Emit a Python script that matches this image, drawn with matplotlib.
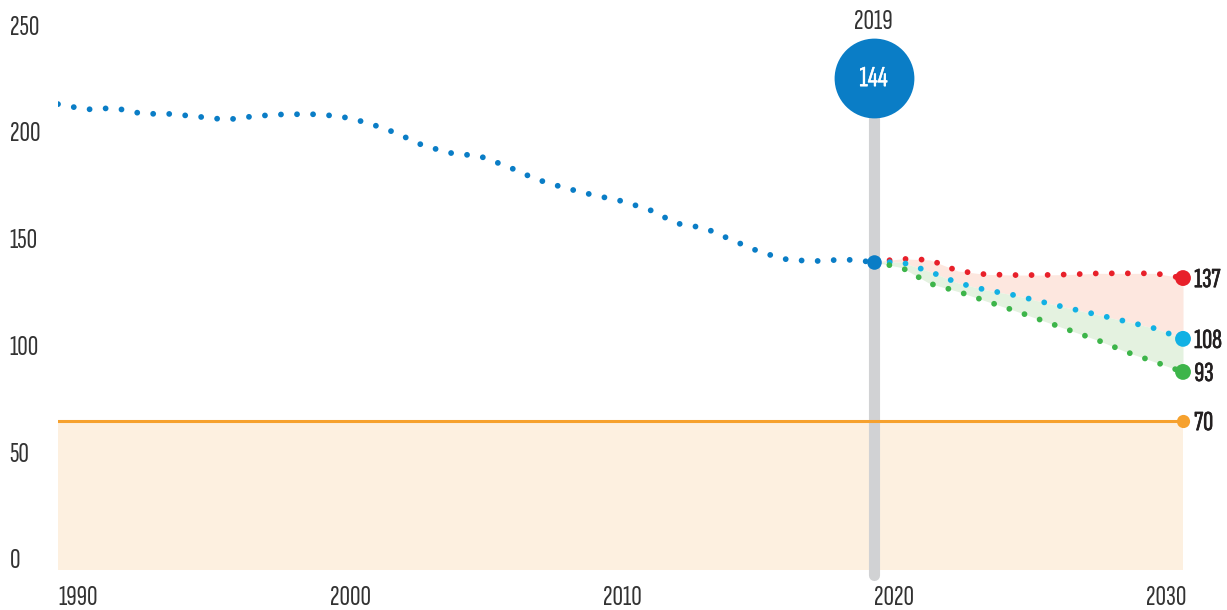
import numpy as np
import matplotlib.pyplot as plt
import matplotlib.patheffects as pe

# Data
hist_years = list(range(1990, 2020))
hist_vals = [218.5, 216.0, 216.7, 214.0, 213.9, 212.6, 211.2, 212.9, 213.7, 213.8,
             212.9, 209.8, 205.1, 199.0, 195.5, 194.1, 189.2, 183.3, 179.3, 176.0,
             173.2, 169.2, 162.6, 160.4, 154.6, 149.0, 145.4, 145.0, 145.7, 144.5]

proj_years = list(range(2019, 2031))
high_vals = [144.5, 146.0, 145.5, 140.3, 138.7, 138.4, 138.4, 138.7, 139.2, 139.2, 139.2, 137.0]
mid_vals = [144.5, 144.4, 140.0, 134.7, 131.4, 129.0, 125.8, 122.7, 119.7, 116.6, 113.4, 108.5]
low_vals = [144.5, 141.9, 134.4, 130.7, 126.2, 121.8, 117.1, 112.4, 107.7, 102.3, 97.7, 93.0]
target = 70
highlight_year = 2019
highlight_val = 144

end_labels = ['137', '108', '93', '70']
y_ticks = [0, 50, 100, 150, 200, 250]
x_ticks = [1990, 2000, 2010, 2020, 2030]

# Colours
c_hist = '#0a7dc6'
c_high = '#e8202a'
c_mid = '#12b1e4'
c_low = '#3db54a'
c_target = '#f6a12e'
c_bar = '#d1d2d4'
c_text = '#333333'

plt.rcParams['font.family'] = ['Sofia Sans Extra Condensed', 'DejaVu Sans']

fig = plt.figure(figsize=(12.27, 6.10), dpi=100)
ax = fig.add_axes([58 / 1227, (610 - 570.4) / 610, (1183 - 58) / 1227, 533.5 / 610])
ax.set_xlim(1990, 2030)
ax.set_ylim(0, 250)
ax.axis('off')

dots = dict(lw=4.2, linestyle=(0, (0.001, 2.75)), dash_capstyle='round')
heavy = [pe.withStroke(linewidth=0.45, foreground='#231f20')]

# target band
ax.fill_between([1990, 2030], 0, target, color='#fdf0e0', lw=0, zorder=1)

# grey pin for 2019
ax.plot([highlight_year, highlight_year], [-2.2, 231], color=c_bar, lw=8,
        solid_capstyle='round', clip_on=False, zorder=2)

ax.plot([1990, 2030], [target, target], color=c_target, lw=2.2, zorder=3)
ax.scatter([2030], [target], s=90, color=c_target, zorder=6, clip_on=False, lw=0)

# scenario fills
ax.fill_between(proj_years, mid_vals, high_vals, color='#fde7df', lw=0, zorder=1.5)
ax.fill_between(proj_years, low_vals, mid_vals, color='#e4f2e0', lw=0, zorder=1.5)

ax.plot(hist_years, hist_vals, color=c_hist, zorder=4, **dots)
ax.plot(proj_years, high_vals, color=c_high, zorder=4, **dots)
ax.plot(proj_years, mid_vals, color=c_mid, zorder=4, **dots)
ax.plot(proj_years, low_vals, color=c_low, zorder=4, **dots)

ax.scatter([highlight_year], [hist_vals[-1]], s=110, color=c_hist, zorder=6, lw=0)
ax.scatter([2030] * 3, [high_vals[-1], mid_vals[-1], low_vals[-1]], s=130,
           color=[c_high, c_mid, c_low], zorder=6, clip_on=False, lw=0)

# end labels
for lab, v in zip(end_labels, [high_vals[-1], mid_vals[-1], low_vals[-1], target]):
    ax.text(2030.4, v - 1.0, lab, ha='left', va='center', fontsize=20,
            color='#231f20', clip_on=False, path_effects=heavy)

# 2019 bubble
ax.scatter([highlight_year], [230.7], s=3300, color=c_hist, zorder=7, clip_on=False, lw=0)
ax.text(highlight_year, 230.2, str(highlight_val), ha='center', va='center',
        fontsize=21, color='white', zorder=8, clip_on=False,
        path_effects=[pe.withStroke(linewidth=0.3, foreground='white')])
ax.text(highlight_year, 257, str(highlight_year), ha='center', va='center',
        fontsize=21, color=c_text, clip_on=False)

# y labels, sitting just above their value
ytr = ax.get_yaxis_transform()
for v in y_ticks:
    ax.text(-0.043, v + 1, str(v), transform=ytr, ha='left', va='baseline',
            fontsize=21, color=c_text, clip_on=False)

# x labels, spread evenly from edge to edge
for lab, x in zip(x_ticks, np.linspace(1990.72, 2029.4, len(x_ticks))):
    ax.text(x, -13, str(lab), ha='center', va='center', fontsize=21,
            color=c_text, clip_on=False)

fig.savefig('out.png', dpi=100)
